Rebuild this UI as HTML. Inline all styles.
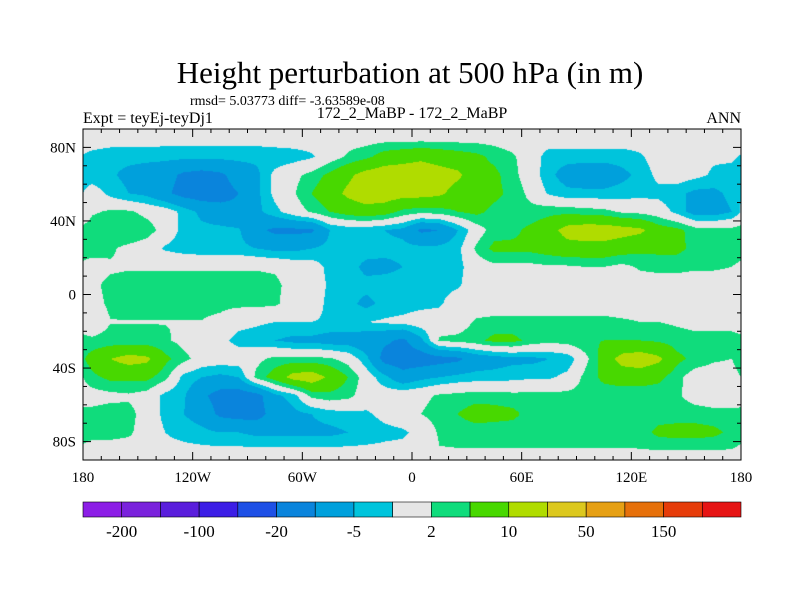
<!DOCTYPE html>
<html><head><meta charset="utf-8"><style>
body{margin:0;background:#fff;width:800px;height:600px;overflow:hidden;position:relative;font-family:"Liberation Serif",serif;}
.t{position:absolute;white-space:nowrap;color:#000;}
</style></head><body>
<div class="t" style="left:0;width:820px;text-align:center;top:55px;font-size:31px;">Height perturbation at 500 hPa (in m)</div>
<div class="t" style="left:190px;top:94px;font-size:14px;">rmsd= 5.03773 diff= -3.63589e-08</div>
<div class="t" style="left:83px;top:110px;font-size:16px;">Expt = teyEj-teyDj1</div>
<div class="t" style="left:312px;width:200px;text-align:center;top:105px;font-size:16px;">172_2_MaBP - 172_2_MaBP</div>
<div class="t" style="left:700px;width:41px;text-align:right;top:110px;font-size:16px;">ANN</div>
<canvas id="map" width="658" height="331" style="position:absolute;left:83px;top:129px;"></canvas>
<svg id="ov" width="800" height="600" style="position:absolute;left:0;top:0;"></svg>
<script>
const levels=[-200,-150,-100,-50,-20,-10,-5,-2,2,5,10,20,50,100,150,200];
const colors=["#8c1ee6","#7a22dc","#5a1edc","#3c1ee6","#1e50e6","#0a84dc","#00a0dc","#00c4dc","#e6e6e6","#10dc7c","#48d800","#b0dc00","#dcc81e","#e6a014","#e6700a","#e63c0a","#e61414"];
const cbLabels=["-200","-100","-20","-5","2","10","50","150"];
const lats=[85,75,65,55,45,35,25,15,5,-5,-15,-25,-35,-45,-55,-65,-75,-85];
const lons=[-175,-165,-155,-145,-135,-125,-115,-105,-95,-85,-75,-65,-55,-45,-35,-25,-15,-5,5,15,25,35,45,55,65,75,85,95,105,115,125,135,145,155,165,175];
const row85=[0,0,0,0,-0.5,-0.5,-0.5,-0.5,-0.5,-0.5,0,0,0,0,0.5,0.5,0.5,0.5,0.5,0.5,0.5,0.5,0.5,0,0,0,0,0,0,0,0,0,0,0,0,0];
const row75=[-3,-4,-4,-4,-4,-4,-4,-4,-4,-4,-4,-3.5,-2.5,0,2.5,4,7,8,9,8,7,6,4,2.5,0,-3.5,-3.5,-3.5,-3.5,-3.5,-2.5,0,-1,-1,-1.5,-1.5];
const row65=[-4,-4.5,-6,-7,-8,-11,-12,-11,-8,-6,-1,1,3,6,9,12,13,13,13,12,11,7,6,3,0,-4,-7,-8,-8,-6,-4,-1,0,-1,-2.5,-3];
const row55=[0,-3,-5,-6,-9,-12,-13,-12,-10,-6,-1,1.5,5,8,11,13,13,12,12,11,8,7,6,4,1,-2.5,-4,-4,-4,-3.5,-3,-3,-4,-6,-6,-4];
const row45=[1.5,2.5,2.5,1,0,-3,-6,-8,-9,-6,-3,0,2.5,5,7,8,7,4,3,3.5,5,6,4,3,3,4,4,3.5,3,1.5,1,0,-3,-7,-7,-5];
const row35=[4,4.5,5,3.5,0.5,-3,-4,-4,-4.5,-9,-11,-11,-11,-5,-4,-4,-5,-6,-11,-10,-5,0,3.5,4,6,8,12,13,13,12,11,7,6,3.5,3,3];
const row25=[3,2.5,1,0,-2.5,-3.5,-4,-4,-4,-5,-6,-6,-5,-4,-3.5,-3.5,-4,-4,-4,-4,-3,2.5,6,6,6,7,8,8,8,7,6,6,6,4,3.5,3];
const row15=[1,1.6,1.8,1.8,1.8,1.8,1.8,1.8,1.8,1.8,1.6,0.5,0,-3,-3.5,-6,-6,-5,-4,-3.5,-3,0,1,1,1,1.5,1.5,2,2,1,2.5,3,3,2.5,2.5,2];
const row5=[1.5,2.6,2.8,2.8,2.8,2.8,2.8,2.8,2.8,2.8,2.6,1,0,-2.5,-3.5,-4,-3.5,-3.5,-3,-3,-2.5,0,0,0,0,0,0,0,0,0,0,0,0,0,0,0];
const rowM5=[1,2.5,2.8,2.8,2.8,2.8,2.8,2.8,2.8,2.8,2.5,0.5,0,-3,-4,-6,-4,-3.5,-3,-2.5,0,0,0,0,0,0,0,0,0,0,0,0,0,0,0,0];
const rowM15=[0,1.9,1.9,1.9,1.9,1.9,1.9,1.2,-1,-1.5,-2,-2,-2,-2.5,-2.5,-2,-1.5,-1,0,0,0,2.5,3,3,3,3,3,3,3,2.5,2,2,1.5,1,1,1];
const rowM25=[2.5,3,3,3,2.5,1,0,-1,-3,-3.5,-5,-6,-6,-7,-7,-8,-9,-11,-6,2.5,3,4,6,6,4,3,3.5,4.5,5,5,5,4.5,3.5,3,3,3];
const rowM35=[7,10,12,11,6,3,0.5,0,0,1,3,3,3,2.5,0.5,-4,-12,-13,-13,-12,-11,-8,-7,-6,-6,-5,-4,1,7,12,13,11,6,4,2.5,2];
const rowM45=[4,6,6,6,3,-3,-5,-6,-5,3,7,12,13,9,5,0,-4,-8,-6,-5,-4,-3.5,-3.5,-3,-2.5,-2.5,-1,3,6,7,7,6,3,0,0,0];
const rowM55=[0.5,1,1.5,0.5,-3,-4.5,-9,-12,-13,-12,-6,-3.5,3,4,3,0,0,0.5,1,2.5,3,3.5,3.5,3,3,3,3,3,3,3,3,3,2.5,0.5,0,0];
const rowM65=[3,3.5,3,0.5,-3,-5,-7,-11,-12,-12,-8,-6,-5,-3.5,-3,-2.5,-1,0,2,3.5,5,7,6.5,6,3.5,3,3,3,3,3,3,3.5,3.5,3.5,3,3];
const rowM75=[3,3,2.5,0.5,-2,-3,-4,-5,-5,-6,-6,-6,-6,-6,-5,-4,-3,-2.5,-1,2.5,3,3,3,3,3,3,3,3,3,3,3.5,6,6.5,6.5,6,4];
const rowM85=[0.5,0.5,0.5,0.5,-1,-1,-1,-1,-1,-1,-1,-1,-1,-1,-1,-1,-1,-1,-1,1.8,1.8,1.8,1.8,1.8,1.8,1.8,1.8,1.8,1.8,1.8,1.8,1.8,1.8,1.8,1.8,1.8];
const field=[row85,row75,row65,row55,row45,row35,row25,row15,row5,rowM5,rowM15,rowM25,rowM35,rowM45,rowM55,rowM65,rowM75,rowM85];

const X0=83,X1=741,Y0=129,Y1=460;
function xOf(lon){return X0+(lon+180)/360*(X1-X0);}
function yOf(lat){return Y0+(90-lat)/180*(Y1-Y0);}
function hex(c){return [parseInt(c.slice(1,3),16),parseInt(c.slice(3,5),16),parseInt(c.slice(5,7),16)];}
const rgb=colors.map(hex);
function colorIdx(v){let i=0;while(i<levels.length&&v>=levels[i])i++;return i;}
function sample(lon,lat){
  const nr=lats.length,nc=lons.length;
  let r=(lats[0]-lat)/(lats[0]-lats[1]);r=Math.max(0,Math.min(nr-1,r));
  let c=(lon-lons[0])/(lons[1]-lons[0]);
  const r0=Math.floor(r),r1=Math.min(nr-1,r0+1),fr=r-r0;
  const c0f=Math.floor(c),fc=c-c0f;
  const c0=((c0f%nc)+nc)%nc,c1=(c0+1)%nc;
  const a=field[r0][c0]*(1-fc)+field[r0][c1]*fc;
  const b=field[r1][c0]*(1-fc)+field[r1][c1]*fc;
  return a*(1-fr)+b*fr;
}
const cv=document.getElementById('map'),ctx=cv.getContext('2d');
const W=cv.width,H=cv.height,img=ctx.createImageData(W,H);
for(let py=0;py<H;py++){
  const lat=90-(py+0.5)/H*180;
  for(let px=0;px<W;px++){
    const lon=-180+(px+0.5)/W*360;
    const k=rgb[colorIdx(sample(lon,lat))];
    const o=(py*W+px)*4;img.data[o]=k[0];img.data[o+1]=k[1];img.data[o+2]=k[2];img.data[o+3]=255;
  }
}
ctx.putImageData(img,0,0);

const NS='http://www.w3.org/2000/svg',ov=document.getElementById('ov');
function mk(tag,attrs,parent){const e=document.createElementNS(NS,tag);for(const k in attrs)e.setAttribute(k,attrs[k]);(parent||ov).appendChild(e);return e;}
const frame=mk('rect',{x:X0,y:Y0,width:X1-X0,height:Y1-Y0,fill:'none',stroke:'#000','stroke-width':1});


const xTickVals=[-180,-120,-60,0,60,120,180];
const xTickLabels=["180","120W","60W","0","60E","120E","180"];
const yTickVals=[80,40,0,-40,-80];
const yTickLabels=["80N","40N","0","40S","80S"];
for(let lon=-180;lon<=180;lon+=10){
  const x=xOf(lon),L=(lon%60===0)?8:4;
  mk('line',{x1:x,y1:Y1,x2:x,y2:Y1-L,stroke:'#000'});
  mk('line',{x1:x,y1:Y0,x2:x,y2:Y0+L,stroke:'#000'});
}
for(let lat=-90;lat<=90;lat+=10){
  const y=yOf(lat),L=(lat%40===0)?8:4;
  mk('line',{x1:X0,y1:y,x2:X0+L,y2:y,stroke:'#000'});
  mk('line',{x1:X1,y1:y,x2:X1-L,y2:y,stroke:'#000'});
}
xTickVals.forEach((v,i)=>{
  const t=mk('text',{x:xOf(v),y:482,'text-anchor':'middle','font-size':15,'font-family':'Liberation Serif, serif'});
  t.textContent=xTickLabels[i];
  
  
});
yTickVals.forEach((v,i)=>{
  const t=mk('text',{x:76,y:yOf(v)+5,'text-anchor':'end','font-size':15,'font-family':'Liberation Serif, serif'});
  t.textContent=yTickLabels[i];
  
  
});
const cbX=83,cbW=(741-83)/colors.length,cbY=502,cbH=15;
colors.forEach((c,i)=>{
  const r=mk('rect',{x:cbX+i*cbW,y:cbY,width:cbW,height:cbH,fill:c,stroke:'#000','stroke-width':0.6});
  
  
});
cbLabels.forEach((s,i)=>{
  const t=mk('text',{x:cbX+(2*i+1)*cbW,y:537,'text-anchor':'middle','font-size':17,'font-family':'Liberation Serif, serif'});
  t.textContent=s;
  
  
});
</script>
</body></html>
